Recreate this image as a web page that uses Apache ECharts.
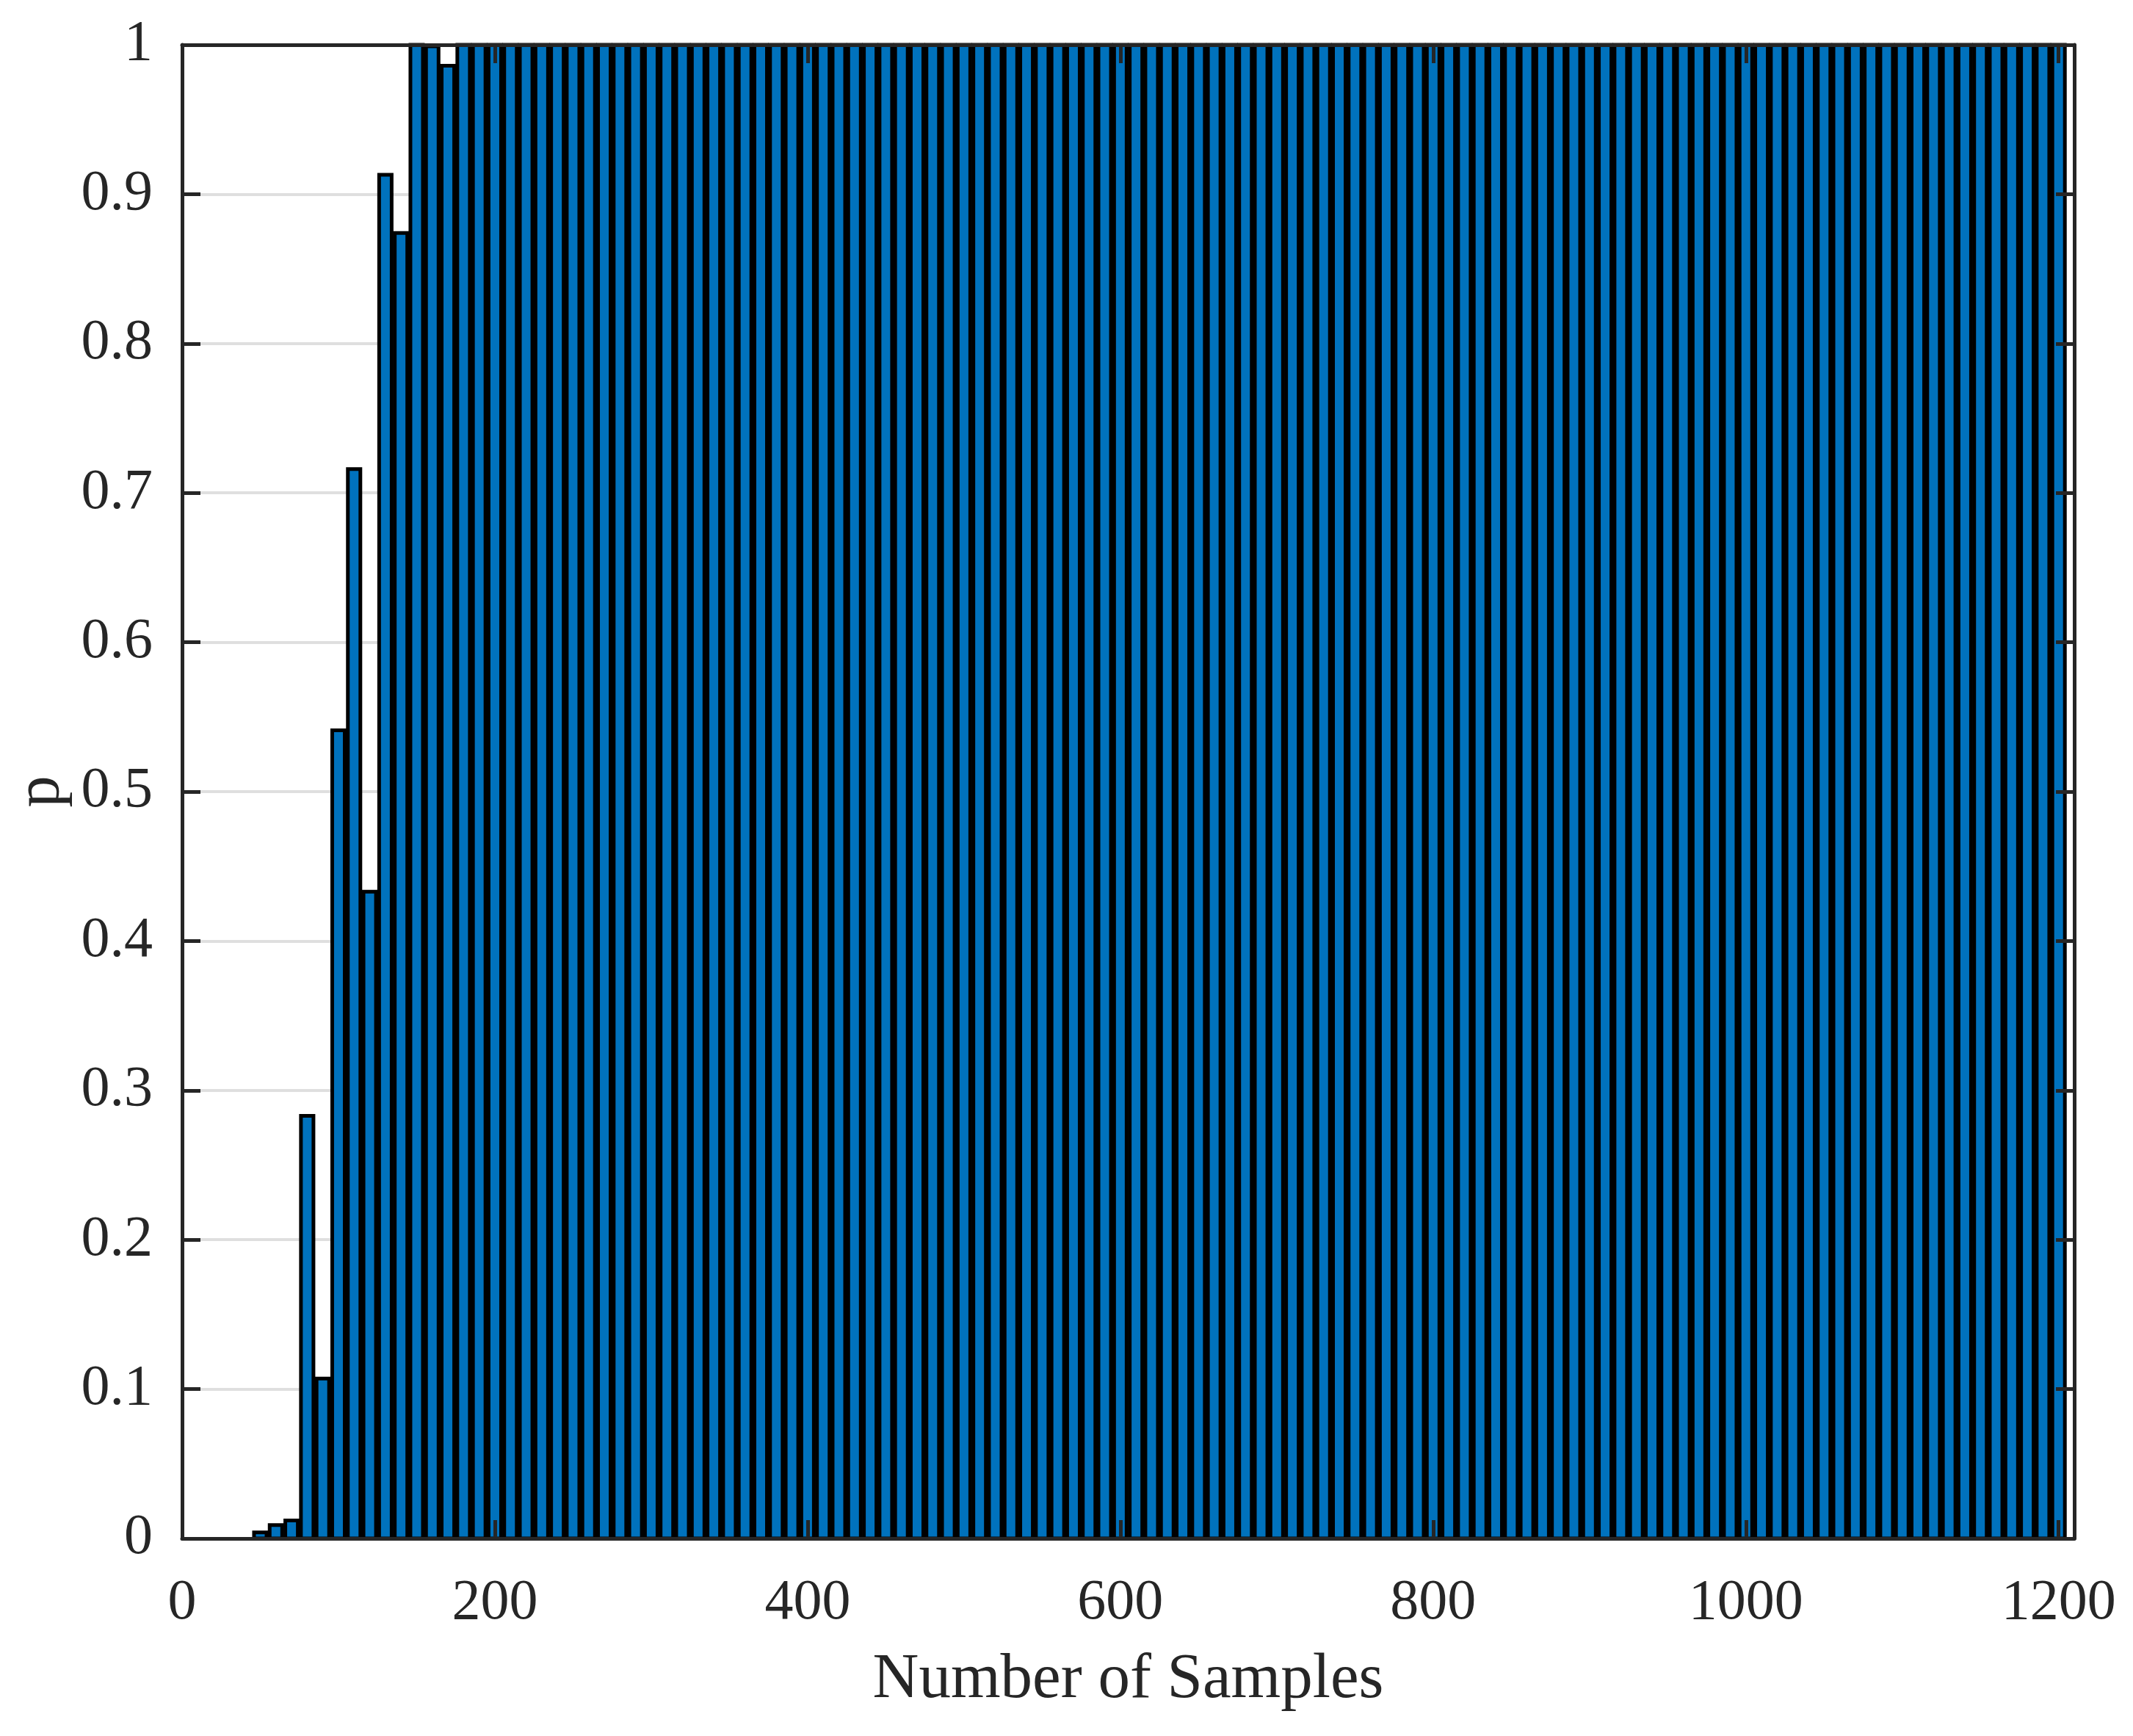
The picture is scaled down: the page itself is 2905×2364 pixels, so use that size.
<!DOCTYPE html>
<html>
<head>
<meta charset="utf-8">
<script src="https://cdn.jsdelivr.net/npm/echarts@6/dist/echarts.min.js"></script>
<style>
html,body{margin:0;padding:0;background:#fff;}
#chart{width:2905px;height:2364px;}
</style>
</head>
<body>
<div id="chart"></div>
<script>
// ---- data ----
const sampleSizes = [
  50,60,70,80,90,100,110,120,130,140,
  150,160,170,180,190,200,210,220,230,240,
  250,260,270,280,290,300,310,320,330,340,
  350,360,370,380,390,400,410,420,430,440,
  450,460,470,480,490,500,510,520,530,540,
  550,560,570,580,590,600,610,620,630,640,
  650,660,670,680,690,700,710,720,730,740,
  750,760,770,780,790,800,810,820,830,840,
  850,860,870,880,890,900,910,920,930,940,
  950,960,970,980,990,1000,1010,1020,1030,1040,
  1050,1060,1070,1080,1090,1100,1110,1120,1130,1140,
  1150,1160,1170,1180,1190,1200
];
const pValues = [
  0.004,0.009,0.012,0.283,0.107,0.541,0.716,0.433,0.913,0.874,
  1,0.999,0.986,1,1,1,1,1,1,1,
  1,1,1,1,1,1,1,1,1,1,
  1,1,1,1,1,1,1,1,1,1,
  1,1,1,1,1,1,1,1,1,1,
  1,1,1,1,1,1,1,1,1,1,
  1,1,1,1,1,1,1,1,1,1,
  1,1,1,1,1,1,1,1,1,1,
  1,1,1,1,1,1,1,1,1,1,
  1,1,1,1,1,1,1,1,1,1,
  1,1,1,1,1,1,1,1,1,1,
  1,1,1,1,1,1
];
const xTickLabels = ['0','200','400','600','800','1000','1200'];
const yTickLabels = ['0','0.1','0.2','0.3','0.4','0.5','0.6','0.7','0.8','0.9','1'];
const xAxisTitle = 'Number of Samples';
const yAxisTitle = 'p';

// ---- styling ----
const FONT = '"Liberation Serif", "Times New Roman", serif';
const AXIS_COLOR = '#262626';
const BAR_HALF_WIDTH = 4; // bar width 0.8 of bin (data units)

const points = sampleSizes.map((x, i) => [x, pValues[i]]);

const chart = echarts.init(document.getElementById('chart'), null, {renderer: 'canvas'});

const boxLine = {show: true, onZero: false, lineStyle: {color: AXIS_COLOR, width: 5}};
const boxTick = {show: true, inside: true, length: 25, lineStyle: {color: AXIS_COLOR, width: 5}};

const xLabelFmt = v => (xTickLabels.indexOf(String(Math.round(v))) >= 0 && Math.abs(v - Math.round(v)) < 1e-6 && Math.round(v) % 200 === 0) ? String(Math.round(v)) : '';
const yLabelFmt = v => {
  const s = String(+(+v).toFixed(1));
  return yTickLabels.indexOf(s) >= 0 ? s : '';
};

chart.setOption({
  backgroundColor: '#ffffff',
  animation: false,
  grid: {left: 248, right: 80, top: 61, bottom: 269, containLabel: false},
  xAxis: [
    {
      type: 'value', position: 'bottom', min: 0, max: 1210, interval: 200, z: 5,
      axisLine: boxLine, axisTick: boxTick,
      axisLabel: {show: true, margin: 50, color: AXIS_COLOR, fontFamily: FONT, fontSize: 78, formatter: xLabelFmt, showMaxLabel: false},
      splitLine: {show: false},
      name: xAxisTitle, nameLocation: 'middle', nameGap: 150,
      nameTextStyle: {color: AXIS_COLOR, fontFamily: FONT, fontSize: 87}
    },
    {
      type: 'value', position: 'top', min: 0, max: 1210, interval: 200, z: 5,
      axisLine: boxLine, axisTick: boxTick,
      axisLabel: {show: false}, splitLine: {show: false}
    }
  ],
  yAxis: [
    {
      type: 'value', position: 'left', min: 0, max: 1, interval: 0.1, z: 5,
      axisLine: boxLine, axisTick: boxTick,
      axisLabel: {show: true, margin: 40, color: AXIS_COLOR, fontFamily: FONT, fontSize: 78, formatter: yLabelFmt},
      splitLine: {show: false},
      name: yAxisTitle, nameLocation: 'middle', nameGap: 142,
      nameTextStyle: {color: AXIS_COLOR, fontFamily: FONT, fontSize: 87}
    },
    {
      type: 'value', position: 'right', min: 0, max: 1, interval: 0.1, z: 5,
      axisLine: boxLine, axisTick: boxTick,
      axisLabel: {show: false}, splitLine: {show: false}
    },
    {
      type: 'value', position: 'left', min: 0, max: 1, interval: 0.1, z: 0,
      axisLine: {show: false}, axisTick: {show: false}, axisLabel: {show: false},
      splitLine: {show: true, lineStyle: {color: '#dfdfdf', width: 4}}
    }
  ],
  series: [{
    type: 'custom',
    xAxisIndex: 0, yAxisIndex: 0,
    z: 2,
    data: points,
    renderItem: function (params, api) {
      const c = api.value(0), v = api.value(1);
      const topLeft = api.coord([c - BAR_HALF_WIDTH, v]);
      const botRight = api.coord([c + BAR_HALF_WIDTH, 0]);
      return {
        type: 'rect',
        shape: {x: topLeft[0], y: topLeft[1], width: botRight[0] - topLeft[0], height: botRight[1] - topLeft[1]},
        style: {fill: '#0072BD', stroke: '#000000', lineWidth: 5}
      };
    }
  }]
});
</script>
</body>
</html>
